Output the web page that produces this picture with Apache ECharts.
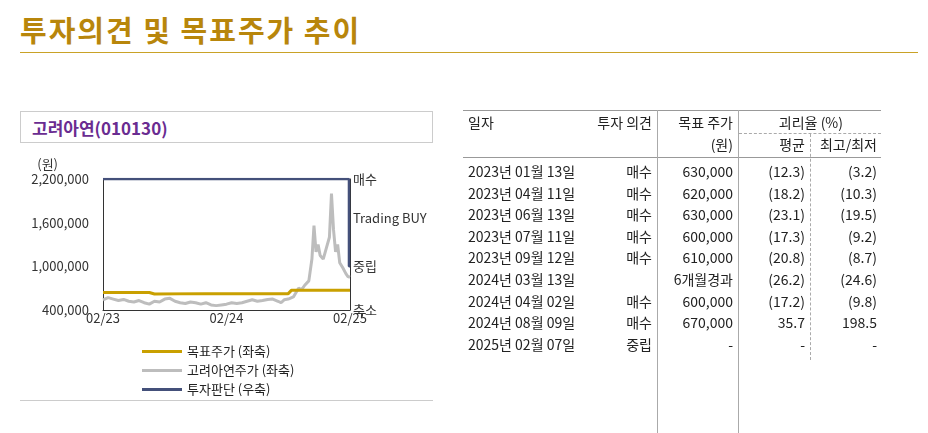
<!DOCTYPE html>
<html><head><meta charset="utf-8">
<script src="https://cdn.jsdelivr.net/npm/echarts@6/dist/echarts.min.js"></script>
<style>
body{margin:0;width:928px;height:433px;position:relative;overflow:hidden;background:#fff;font-family:"Noto Sans CJK KR","Noto Sans",sans-serif;color:#222}
.abs{position:absolute}
#title{left:20px;top:8px;font-size:29px;font-weight:bold;color:#b8860b;letter-spacing:2px}
#gold{left:20px;top:52px;width:898px;height:1px;background:#c9a227}
#box{left:20px;top:111px;width:413px;height:32px;border:1px solid #ccc;color:#6a2c91;font-weight:bold;font-size:17px;line-height:32px;padding-left:11px;box-sizing:border-box}
#bot{left:20px;top:400px;width:413px;height:1px;background:#ccc}
#chart{left:0;top:0;width:928px;height:433px}
.t{font-size:14px;line-height:21px;white-space:nowrap}
.r{text-align:right}
</style></head><body>
<div id="title" class="abs">투자의견 및 목표주가 추이</div>
<div id="gold" class="abs"></div>
<div id="box" class="abs">고려아연(010130)</div>
<div id="bot" class="abs"></div>
<div id="chart" class="abs"></div>
<div id="tbl"></div>
<script>
// 월 인덱스: 0 = 2023-02, 12 = 2024-02, 24 = 2025-02
const xTickLabels = {0: '02/23', 12: '02/24', 24: '02/25'};
const rightLabels = {0: '축소', 1: '중립', 2.1: 'Trading BUY', 3: '매수'};
const targetPrice = [[0, 640000], [4.5, 640000], [5, 620000], [10, 625000], [18, 625000], [18.3, 670000], [24, 670000]];
const stockPrice = [
  [0, 540000], [0.5, 570000], [1, 550000], [1.5, 530000], [2, 545000], [2.5, 520000], [3, 510000], [3.5, 530000],
  [4, 500000], [4.5, 480000], [5, 520000], [5.5, 510000], [6, 550000], [6.5, 560000], [7, 520000], [7.5, 500000],
  [8, 490000], [8.5, 510000], [9, 500000], [9.5, 480000], [10, 500000], [10.5, 470000], [11, 460000], [11.5, 470000],
  [12, 480000], [12.5, 500000], [13, 490000], [13.5, 500000], [14, 520000], [14.5, 540000], [15, 520000], [15.5, 530000],
  [16, 545000], [16.5, 550000], [17, 520000], [17.3, 500000], [17.6, 540000], [18, 550000], [18.5, 580000], [19, 700000],
  [19.3, 680000], [19.6, 740000], [20, 800000], [20.3, 1100000], [20.5, 1560000], [20.7, 1200000], [20.9, 1300000],
  [21.1, 1150000], [21.4, 1100000], [21.7, 1250000], [22, 1400000], [22.2, 2000000], [22.4, 1500000], [22.6, 1200000],
  [22.8, 1300000], [23, 1050000], [23.3, 980000], [23.6, 900000], [23.8, 860000], [24, 850000]
];
const opinion = [[0, 3], [23.9, 3], [23.9, 1], [24, 1]];

const chart = echarts.init(document.getElementById('chart'));
chart.setOption({
  animation: false,
  textStyle: {fontFamily: 'Noto Sans CJK KR'},
  grid: {left: 103, right: 578, top: 179, height: 131},
  legend: {
    orient: 'vertical', left: 137, top: 340, itemWidth: 40, itemHeight: 3, itemGap: 6,
    icon: 'rect', textStyle: {fontSize: 13, color: '#222'},
    data: ['목표주가 (좌축)', '고려아연주가 (좌축)', '투자판단 (우축)']
  },
  xAxis: {
    type: 'value', min: 0, max: 24, interval: 12,
    axisLine: {lineStyle: {color: '#333'}}, axisTick: {show: false}, splitLine: {show: false},
    axisLabel: {color: '#333', fontSize: 13, margin: 2, formatter: v => xTickLabels[v] || ''}
  },
  yAxis: [{
    type: 'value', min: 400000, max: 2200000, interval: 600000, name: '(원)',
    nameTextStyle: {color: '#333', fontSize: 13, align: 'right', padding: [0, 45, 0, 0]}, nameGap: 8,
    axisLine: {show: true, lineStyle: {color: '#333'}}, axisTick: {show: false}, splitLine: {show: false},
    axisLabel: {color: '#333', fontSize: 13, margin: 14, formatter: v => v.toLocaleString('en-US')}
  }, {
    type: 'value', min: 0, max: 3, interval: 0.1,
    axisLine: {show: true, lineStyle: {color: '#333'}}, axisTick: {show: false}, splitLine: {show: false},
    axisLabel: {color: '#333', fontSize: 13, margin: 3, showMinLabel: true,
      formatter: v => rightLabels[Math.round(v * 10) / 10] || ''}
  }],
  series: [
    {name: '고려아연주가 (좌축)', type: 'line', data: stockPrice, showSymbol: false, lineStyle: {color: '#bdbdbd', width: 3}, itemStyle: {color: '#bdbdbd'}},
    {name: '목표주가 (좌축)', type: 'line', data: targetPrice, showSymbol: false, lineStyle: {color: '#c9a000', width: 3}, itemStyle: {color: '#c9a000'}},
    {name: '투자판단 (우축)', type: 'line', yAxisIndex: 1, data: opinion, showSymbol: false, lineStyle: {color: '#44507a', width: 2.5}, itemStyle: {color: '#44507a'}}
  ]
});

// 표
const rows = [
  ['2023년 01월 13일', '매수', '630,000', '(12.3)', '(3.2)'],
  ['2023년 04월 11일', '매수', '620,000', '(18.2)', '(10.3)'],
  ['2023년 06월 13일', '매수', '630,000', '(23.1)', '(19.5)'],
  ['2023년 07월 11일', '매수', '600,000', '(17.3)', '(9.2)'],
  ['2023년 09월 12일', '매수', '610,000', '(20.8)', '(8.7)'],
  ['2024년 03월 13일', '', '6개월경과', '(26.2)', '(24.6)'],
  ['2024년 04월 02일', '매수', '600,000', '(17.2)', '(9.8)'],
  ['2024년 08월 09일', '매수', '670,000', '35.7', '198.5'],
  ['2025년 02월 07일', '중립', '-', '-', '-']
];
let h = '';
const line = (x, y, w, ht, st) => h += `<div class="abs" style="left:${x}px;top:${y}px;width:${w}px;height:${ht}px;${st}"></div>`;
const txt = (x, y, s, right) => h += right
  ? `<div class="abs t r" style="right:${928 - x}px;top:${y}px">${s}</div>`
  : `<div class="abs t" style="left:${x}px;top:${y}px">${s}</div>`;
line(463, 110, 418, 1, 'background:#999');
line(463, 157, 418, 1, 'background:#999');
line(657, 110, 1, 323, 'background:#aaa');
line(738, 110, 1, 323, 'background:#aaa');
line(739, 133, 142, 0, 'border-top:1px dashed #aaa');
line(810, 134, 0, 226, 'border-left:1px dashed #aaa');
txt(468, 112, '일자'); txt(652, 112, '투자 의견', true); txt(733, 112, '목표 주가', true);
txt(843, 112, '괴리율 (%)', true); txt(733, 134, '(원)', true); txt(805, 134, '평균', true); txt(877, 134, '최고/최저', true);
rows.forEach((r, i) => {
  const y = 161 + i * 21.6;
  txt(468, y, r[0]); txt(652, y, r[1], true); txt(733, y, r[2], true); txt(805, y, r[3], true); txt(877, y, r[4], true);
});
document.getElementById('tbl').innerHTML = h;
</script>
</body></html>
